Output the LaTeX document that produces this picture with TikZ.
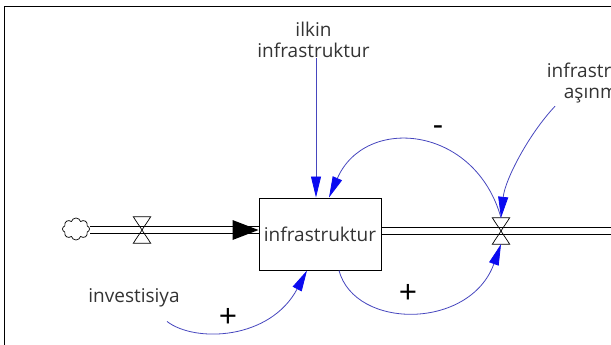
\documentclass[tikz,border=0pt]{standalone}
\usepackage{fontspec}
\setmainfont{Open Sans}
\usetikzlibrary{arrows.meta, shapes.symbols, calc}
\definecolor{clink}{RGB}{70,70,190}
\definecolor{chead}{RGB}{10,10,240}
\definecolor{ctext}{gray}{0.2}

\begin{document}
\begin{tikzpicture}[x=1pt, y=-1pt,
    label/.style={font=\fontsize{19}{21}\selectfont, text=ctext, align=center, inner sep=0pt},
    sign/.style={font=\fontsize{32}{32}\selectfont, inner sep=0pt},
    stock/.style={draw, line width=1pt, minimum width=122pt, minimum height=72pt, inner sep=0pt, font=\fontsize{19}{21}\selectfont, text=ctext},
    valve/.style={minimum width=17pt, minimum height=26pt, inner sep=0pt},
    source/.style={cloud, draw, cloud puffs=8, aspect=1.2, minimum width=27pt, minimum height=22pt, inner sep=0pt, line width=0.7pt},
    pipe/.style={draw=black, line width=1.1pt, double=white, double distance=5.5pt},
    link/.style={draw=clink, line width=0.8pt, -{Triangle[length=21pt, width=10pt, color=chead]}},
]
\useasboundingbox (0,0) rectangle (611,345);
\draw[line width=0.9pt] (4.5,345) -- (4.5,6) -- (611,6);

\node[stock] (infra) at (320,234) {infrastruktur};
\node[valve] (v1) at (142,230) {};
\node[valve] (v2) at (501,231) {};
\node[source] (src) at (76,229) {};
\coordinate (pin) at (infra.west |- v1);
\coordinate (pout) at (infra.east |- v2);
\coordinate (sink) at (620,231);

\node[label] (ilkin) at (313.5,40) {ilkin\\infrastruktur};
\node[label] (asin) at (603,83) {infrastruktur\\aşınması};
\node[label] (inv) at (134,298) {investisiya};

\draw[pipe] (src.east |- v1) -- (pin);
\draw[pipe] (pout) -- (sink);
\fill (pin) -- ++(-26,-10) -- ++(0,20) -- cycle;
\foreach \v in {v1,v2}
  \draw[line width=0.7pt] (\v.north west) -- (\v.north east) -- (\v.south west) -- (\v.south east) -- cycle;

\draw[link] ([xshift=2.5pt]ilkin.south) -- ([xshift=-4pt]infra.north);
\draw[link] (v2.north) .. controls (475,125) and (365,115) .. ([xshift=9pt]infra.north);
\draw[link] ([xshift=-48pt,yshift=-3pt]asin.south) .. controls (528,135) and (505,180) .. (v2.north);
\draw[link] ([xshift=19pt]infra.south) .. controls (355,330) and (470,330) .. (v2.south);
\draw[link] ([xshift=33pt,yshift=-14pt]inv.south) .. controls (195,343) and (270,340) .. ([xshift=-13pt]infra.south);

\node[sign] (s1) at (438,131) {-};
\node[sign] (s2) at (408,294) {+};
\node[sign] (s3) at (228,318) {+};

\end{tikzpicture}
\end{document}
